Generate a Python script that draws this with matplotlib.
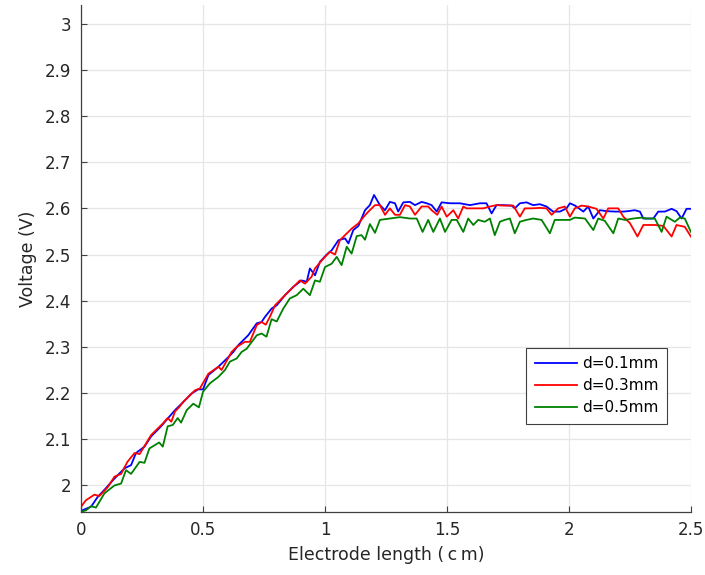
import matplotlib
matplotlib.use("Agg")
import matplotlib.pyplot as plt

# (electrode length in cm, voltage in V)
x_d01 = [0.000, 0.041, 0.068, 0.100, 0.137, 0.178, 0.205, 0.225, 0.260, 0.287,
         0.328, 0.362, 0.385, 0.412, 0.453, 0.480, 0.500, 0.522, 0.563, 0.604,
         0.624, 0.645, 0.685, 0.720, 0.740, 0.754, 0.781, 0.802, 0.836, 0.870,
         0.904, 0.925, 0.938, 0.959, 0.979, 1.007, 1.027, 1.055, 1.082, 1.096,
         1.116, 1.137, 1.164, 1.184, 1.201, 1.225, 1.246, 1.266, 1.287, 1.300,
         1.321, 1.348, 1.369, 1.396, 1.417, 1.437, 1.458, 1.478, 1.512, 1.553,
         1.594, 1.635, 1.662, 1.683, 1.703, 1.731, 1.765, 1.778, 1.799, 1.826,
         1.853, 1.881, 1.908, 1.935, 1.963, 1.990, 2.004, 2.025, 2.059, 2.079,
         2.100, 2.127, 2.154, 2.189, 2.223, 2.243, 2.270, 2.291, 2.305, 2.346,
         2.366, 2.393, 2.421, 2.441, 2.462, 2.482, 2.500]
v_d01 = [1.945, 1.954, 1.975, 1.993, 2.015, 2.037, 2.044, 2.070, 2.084, 2.106,
         2.128, 2.149, 2.163, 2.177, 2.199, 2.208, 2.208, 2.239, 2.257, 2.278,
         2.289, 2.304, 2.325, 2.351, 2.354, 2.365, 2.383, 2.390, 2.412, 2.430,
         2.444, 2.441, 2.470, 2.455, 2.484, 2.500, 2.509, 2.531, 2.535, 2.524,
         2.553, 2.562, 2.596, 2.607, 2.629, 2.607, 2.596, 2.614, 2.611, 2.593,
         2.613, 2.614, 2.607, 2.614, 2.611, 2.607, 2.593, 2.613, 2.611, 2.611,
         2.607, 2.611, 2.611, 2.589, 2.607, 2.607, 2.606, 2.600, 2.611, 2.613,
         2.607, 2.609, 2.604, 2.593, 2.593, 2.600, 2.611, 2.606, 2.593, 2.604,
         2.578, 2.596, 2.594, 2.593, 2.593, 2.594, 2.596, 2.593, 2.578, 2.578,
         2.593, 2.593, 2.599, 2.594, 2.578, 2.599, 2.599]

x_d03 = [0.000, 0.020, 0.055, 0.075, 0.109, 0.137, 0.164, 0.190, 0.219, 0.240,
         0.287, 0.335, 0.355, 0.370, 0.385, 0.403, 0.419, 0.440, 0.467, 0.487,
         0.522, 0.563, 0.576, 0.617, 0.638, 0.672, 0.692, 0.720, 0.740, 0.757,
         0.774, 0.795, 0.836, 0.863, 0.897, 0.918, 0.945, 0.959, 0.993, 1.020,
         1.041, 1.061, 1.082, 1.109, 1.136, 1.164, 1.178, 1.205, 1.225, 1.246,
         1.266, 1.287, 1.307, 1.328, 1.348, 1.369, 1.396, 1.423, 1.437, 1.460,
         1.478, 1.499, 1.526, 1.546, 1.567, 1.580, 1.608, 1.649, 1.676, 1.703,
         1.731, 1.772, 1.799, 1.819, 1.847, 1.881, 1.908, 1.929, 1.956, 1.983,
         2.004, 2.024, 2.052, 2.079, 2.113, 2.141, 2.161, 2.202, 2.223, 2.250,
         2.281, 2.305, 2.352, 2.387, 2.421, 2.441, 2.475, 2.500]
v_d03 = [1.954, 1.968, 1.980, 1.977, 1.996, 2.019, 2.025, 2.051, 2.070, 2.068,
         2.109, 2.134, 2.146, 2.138, 2.160, 2.170, 2.181, 2.192, 2.206, 2.210,
         2.242, 2.257, 2.250, 2.289, 2.300, 2.311, 2.311, 2.347, 2.354, 2.348,
         2.365, 2.390, 2.412, 2.426, 2.444, 2.437, 2.452, 2.470, 2.491, 2.506,
         2.500, 2.531, 2.542, 2.556, 2.567, 2.585, 2.593, 2.607, 2.607, 2.586,
         2.600, 2.586, 2.586, 2.607, 2.604, 2.586, 2.604, 2.604, 2.596, 2.586,
         2.604, 2.582, 2.596, 2.578, 2.604, 2.600, 2.600, 2.600, 2.604, 2.607,
         2.606, 2.606, 2.582, 2.600, 2.600, 2.601, 2.600, 2.586, 2.600, 2.604,
         2.582, 2.600, 2.606, 2.604, 2.599, 2.578, 2.600, 2.600, 2.582, 2.568,
         2.539, 2.564, 2.564, 2.562, 2.539, 2.564, 2.560, 2.539]

x_d05 = [0.000, 0.020, 0.041, 0.061, 0.096, 0.137, 0.164, 0.184, 0.205, 0.240,
         0.260, 0.280, 0.320, 0.335, 0.355, 0.376, 0.396, 0.410, 0.433, 0.460,
         0.483, 0.500, 0.528, 0.563, 0.590, 0.610, 0.638, 0.658, 0.679, 0.700,
         0.720, 0.740, 0.760, 0.781, 0.802, 0.829, 0.856, 0.884, 0.911, 0.938,
         0.959, 0.979, 1.000, 1.027, 1.048, 1.068, 1.089, 1.109, 1.130, 1.150,
         1.164, 1.184, 1.205, 1.225, 1.266, 1.307, 1.348, 1.376, 1.400, 1.423,
         1.444, 1.471, 1.492, 1.519, 1.540, 1.567, 1.587, 1.608, 1.628, 1.655,
         1.676, 1.696, 1.717, 1.737, 1.758, 1.778, 1.799, 1.826, 1.853, 1.888,
         1.922, 1.942, 1.977, 2.004, 2.024, 2.066, 2.100, 2.120, 2.147, 2.182,
         2.202, 2.230, 2.264, 2.298, 2.318, 2.352, 2.380, 2.400, 2.434, 2.455,
         2.475, 2.500]
v_d05 = [1.943, 1.946, 1.955, 1.952, 1.983, 2.000, 2.004, 2.033, 2.025, 2.051,
         2.049, 2.080, 2.093, 2.084, 2.128, 2.131, 2.146, 2.136, 2.163, 2.177,
         2.169, 2.203, 2.221, 2.235, 2.250, 2.268, 2.275, 2.289, 2.296, 2.311,
         2.325, 2.329, 2.322, 2.360, 2.355, 2.383, 2.405, 2.412, 2.426, 2.412,
         2.444, 2.441, 2.473, 2.480, 2.495, 2.477, 2.517, 2.502, 2.540, 2.542,
         2.532, 2.566, 2.547, 2.575, 2.578, 2.581, 2.578, 2.578, 2.549, 2.575,
         2.549, 2.578, 2.549, 2.575, 2.575, 2.549, 2.578, 2.564, 2.575, 2.571,
         2.578, 2.542, 2.571, 2.575, 2.578, 2.546, 2.571, 2.575, 2.578, 2.575,
         2.546, 2.575, 2.575, 2.575, 2.580, 2.578, 2.553, 2.578, 2.573, 2.546,
         2.578, 2.575, 2.578, 2.580, 2.578, 2.578, 2.549, 2.582, 2.571, 2.580,
         2.578, 2.549]

labels = ["d=0.1mm", "d=0.3mm", "d=0.5mm"]
colors = ["#0000ff", "#ff0000", "#008000"]

plt.rcParams["font.family"] = "DejaVu Sans"
fig = plt.figure(figsize=(7.05, 5.75), dpi=100)
ax = fig.add_axes([0.115, 0.11, 0.865, 0.881])

for xs, vs, lab, c in zip([x_d01, x_d03, x_d05], [v_d01, v_d03, v_d05],
                          labels, colors):
    ax.plot(xs, vs, color=c, lw=1.3, label=lab)

ax.set_xlim(0, 2.5)
ax.set_ylim(1.943, 3.04)
ax.set_xticks([0, 0.5, 1, 1.5, 2, 2.5])
ax.set_xticklabels(["0", "0.5", "1", "1.5", "2", "2.5"])
ax.set_yticks([2.0, 2.1, 2.2, 2.3, 2.4, 2.5, 2.6, 2.7, 2.8, 2.9, 3.0])
ax.set_yticklabels(["2", "2.1", "2.2", "2.3", "2.4", "2.5", "2.6", "2.7",
                    "2.8", "2.9", "3"])
ax.grid(True, color="#e6e6e6", lw=0.9)
ax.set_axisbelow(True)
for side in ("top", "right"):
    ax.spines[side].set_visible(False)
for side in ("left", "bottom"):
    ax.spines[side].set_color("#404040")
    ax.spines[side].set_linewidth(0.9)
ax.tick_params(direction="in", length=4, width=0.8, color="#404040",
               labelsize=12, labelcolor="#262626", pad=7)

ax.set_xlabel("Electrode length (\u2009c\u2009m)", fontsize=12.5,
              color="#262626", labelpad=5)
ax.set_ylabel("Voltage (V)", fontsize=12.5, color="#262626", labelpad=6)

leg = ax.legend(loc="lower left", bbox_to_anchor=(0.73, 0.174), fontsize=11,
                frameon=True, fancybox=False, framealpha=1, handlelength=2.8,
                labelspacing=0.45, borderpad=0.55, handletextpad=0.3,
                borderaxespad=0)
leg.get_frame().set_edgecolor("#404040")
leg.get_frame().set_linewidth(0.8)

fig.savefig("out.png", dpi=100)
